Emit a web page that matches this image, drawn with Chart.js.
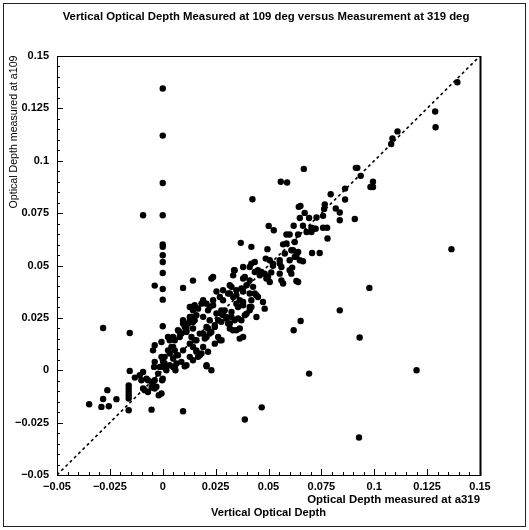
<!DOCTYPE html>
<html><head><meta charset="utf-8">
<script src="https://cdn.jsdelivr.net/npm/chart.js@4.4.1/dist/chart.umd.min.js"></script>
<style>html,body{margin:0;padding:0;background:#fff}#wrap{width:529px;height:530px;position:relative}</style>
</head><body><div id="wrap"><canvas id="c" width="529" height="530"></canvas></div>
<script>
// ---- data (x = optical depth at a319, y = optical depth at a109) ----
const zeroColumn = [[0,0.1345],[0,0.112],[0,0.0894],[0,0.074],[0,0.0601],[0,0.0589],[0,0.0549],[0,0.0517],[0,0.0464],[0,0.0388],[0,0.0337],[0,0.021]];
const outliers = [[-0.0093,0.074],[-0.0038,0.0404],[0.0424,0.0816],[0.0667,0.0961],[0.0558,0.090],[0.0588,0.0896],[0.1393,0.1375],[0.1288,0.1235],[0.129,0.116],[0.111,0.114],[0.1086,0.1106],[0.108,0.108],[0.0913,0.0966],[0.092,0.0966],[0.0936,0.0928],[0.0994,0.090],[0.0982,0.0875],[0.0994,0.0875],[0.1365,0.0578],[0.0977,0.0393],[0.0837,0.0286],[0.0931,0.0156],[0.12,0],[0.0692,-0.0016],[0.0928,-0.0321],[0.0652,0.0235],[0.0619,0.0191],[0.0388,-0.0235],[0.0468,-0.0177],[0.0096,-0.0196],[-0.0053,-0.0188],[-0.0282,0.0202],[-0.0156,0.0178],[-0.0348,-0.0162],[-0.029,-0.0175],[-0.0255,-0.0172],[-0.0282,-0.0137],[-0.0262,-0.0095],[-0.0219,-0.0138],[-0.0161,-0.0191]];
const lowerBand = [[-0.0161,-0.0072],[-0.0161,-0.0087],[-0.0161,-0.0104],[-0.0161,-0.0119],[-0.0161,-0.0135],[-0.0156,-0.0003],[-0.0132,-0.0035],[-0.0109,-0.0024],[-0.0093,-0.0008],[-0.0101,-0.0048],[-0.0077,-0.004],[-0.0093,-0.0087],[-0.0085,-0.0095],[-0.007,-0.0104],[-0.0053,-0.0083],[-0.0046,-0.0072],[-0.0038,-0.0087],[-0.0019,-0.0119],[-0.007,-0.0048],[-0.0053,-0.0056],[-0.0041,0.0016],[-0.0038,0.004],[-0.0038,0.0119],[-0.0046,0.0095],[-0.0006,0.0064],[0.0001,0.0048],[0.0009,0.0032],[0.0006,0.0016],[-0.0003,-0.0048],[0,-0.004],[-0.0006,0.0135],[0.0025,0.0159],[0.0049,0.0111],[0.0033,0.008],[0.0057,0.0095],[0.0065,0.0072],[0.0049,0.0016],[0.006,0],[0.0065,0.0032],[0.0072,0.0191],[0.0088,0.0175],[0.0104,0.0207],[0.0112,0.0183],[0.0096,0.0239],[0.012,0.0223],[0.0136,0.0254],[0.0151,0.0239],[0.0136,0.0302],[0.0151,0.031],[0.0167,0.0294],[0.0183,0.0318],[0.0136,0.0159],[0.0151,0.0143],[0.0143,0.0111],[0.0159,0.0095],[0.0167,0.0064],[0.0183,0.008],[0.0207,0.0024],[0.023,0],[0.0104,0.0019],[0.0207,0.0019],[0.0191,0.0175],[0.0207,0.0159],[0.0214,0.0199],[0.023,0.0183],[0.0246,0.0207],[0.0262,0.0239],[0.0278,0.027],[0.0293,0.0286],[0.0309,0.0223],[0.0325,0.0254],[0.0246,0.0127],[0.0278,0.0143],[0.0348,0.0191],[0.0372,0.0239],[0.0396,0.027],[0.0419,0.0302],[0.0356,0.0302],[0.0364,0.0151]];
const coreBand = [[0.0214,0.0286],[0.0238,0.031],[0.0254,0.0271],[0.0277,0.0286],[0.0301,0.0255],[0.0325,0.0278],[0.0348,0.0318],[0.038,0.031],[0.0411,0.0302],[0.0388,0.0263],[0.0356,0.0247],[0.0317,0.0223],[0.0277,0.0231],[0.0246,0.0215],[0.0222,0.0239],[0.0191,0.0255],[0.0159,0.0263],[0.0128,0.0239],[0.0096,0.0223],[0.0112,0.0191],[0.008,0.0159],[0.0057,0.0143],[0.0041,0.0111],[0.0025,0.0095],[0.0009,0.0064],[0.0002,0.004],[-0.0014,0.0016],[-0.0022,-0.0016],[-0.0038,-0.0048],[-0.003,-0.0079],[-0.0006,-0.0111],[0.0143,0.0199],[0.0175,0.0175],[0.0199,0.0151],[0.0159,0.0143],[0.0128,0.0127],[0.0096,0.0095],[0.0072,0.0072],[0.0049,0.0056],[0.0033,0.0024],[0.0017,0],[0.0057,0.0016],[0.0088,0.004],[0.0128,0.0064],[0.0159,0.0088],[0.0191,0.0111],[0.0214,0.0088],[0.0175,0.0072],[0.0143,0.0048],[0.0112,0.0024],[0.0443,0.0358],[0.0419,0.0334],[0.027,0.0143]];
const midBand = [[0.0143,0.0428],[0.0096,0.0393],[0.023,0.0438],[0.0337,0.0477],[0.0369,0.0608],[0.0419,0.0589],[0.0495,0.0578],[0.0501,0.0689],[0.0525,0.0668],[0.0487,0.0533],[0.0435,0.0517],[0.0569,0.0601],[0.0577,0.0557],[0.0616,0.0573],[0.0632,0.0549],[0.0648,0.0525],[0.0663,0.052],[0.0553,0.0509],[0.0521,0.0509],[0.06,0.0477],[0.0608,0.0461],[0.064,0.0421],[0.0569,0.0414],[0.049,0.0438],[0.0506,0.0421],[0.0411,0.0493],[0.0435,0.0469],[0.0459,0.0453],[0.038,0.0438],[0.0396,0.0406],[0.0317,0.0406],[0.0317,0.0366],[0.0348,0.0358],[0.038,0.0376],[0.0427,0.0398],[0.0435,0.0366],[0.0254,0.0376],[0.027,0.035],[0.0285,0.0334],[0.0364,0.0334],[0.038,0.0326],[0.0411,0.0286],[0.0443,0.0254],[0.0482,0.0294],[0.0191,0.0334],[0.0207,0.0318],[0.0222,0.0302],[0.0128,0.0302],[0.0143,0.0286],[0.0285,0.0263],[0.0301,0.0247],[0.034,0.0239],[0.0364,0.0199],[0.038,0.0159],[0.0317,0.0199],[0.0332,0.0191],[0.0262,0.0159],[0.0207,0.0207],[0.0222,0.0175],[0.0128,0.0254],[0.0143,0.023],[0.0112,0.0207],[0.008,0.0183],[0.0049,0.0159],[0.0033,0.0143],[0.0706,0.056],[0.0742,0.056],[0.0779,0.0629]];
const midBand2 = [[0.0624,0.0612],[0.0585,0.0605],[0.0608,0.0573],[0.064,0.0565],[0.0624,0.0541],[0.06,0.0525],[0.0553,0.0525],[0.0561,0.0493],[0.0506,0.0525],[0.0521,0.0499],[0.0513,0.0467],[0.0419,0.0509],[0.045,0.0477],[0.0466,0.0469],[0.0482,0.0461],[0.0498,0.0445],[0.0553,0.0461],[0.0561,0.0429],[0.0612,0.049],[0.0632,0.0426],[0.038,0.0493],[0.034,0.0477],[0.0333,0.0453],[0.0388,0.0445],[0.0411,0.0429],[0.0238,0.0445],[0.0325,0.0398],[0.0348,0.0382],[0.0372,0.039],[0.0285,0.0382],[0.0309,0.0366],[0.0333,0.035],[0.0411,0.0366],[0.045,0.035],[0.0474,0.0326],[0.0238,0.0334]];
const upperBand = [[0.0862,0.0867],[0.0794,0.084],[0.0862,0.0815],[0.0766,0.0792],[0.0763,0.077],[0.0818,0.0772],[0.0837,0.0753],[0.0837,0.0716],[0.0908,0.0722],[0.0643,0.078],[0.0651,0.0784],[0.0671,0.0751],[0.0648,0.0727],[0.0692,0.0727],[0.0727,0.0729],[0.0758,0.0737],[0.0619,0.069],[0.0663,0.069],[0.0703,0.068],[0.0715,0.0676],[0.0723,0.0676],[0.068,0.066],[0.0703,0.066],[0.0758,0.068],[0.0777,0.068],[0.0585,0.0648],[0.06,0.0648],[0.064,0.0648]];
const diagonal = [-0.05, 0.15];
const xTickValues = [-0.05,-0.025,0,0.025,0.05,0.075,0.1,0.125,0.15];
const xTickLabels = ['\u22120.05','\u22120.025','0','0.025','0.05','0.075','0.1','0.125','0.15'];
const yTickValues = [-0.05,-0.025,0,0.025,0.05,0.075,0.1,0.125,0.15];
const yTickLabels = ['\u22120.05','\u22120.025','0','0.025','0.05','0.075','0.1','0.125','0.15'];
const titleText = 'Vertical Optical Depth Measured at 109 deg versus Measurement at 319 deg';
const yTitleText = 'Optical Depth measured at a109';
const xTitleText1 = 'Optical Depth measured at a319';
const xTitleText2 = 'Vertical Optical Depth';

const FONT = '"Liberation Sans", Arial, sans-serif';
const allPoints = [].concat(zeroColumn, outliers, lowerBand, coreBand, midBand, midBand2, upperBand);

function fitFont(ctx, text, target, weight, base){
  ctx.font = weight + ' ' + base + 'px ' + FONT;
  const w = ctx.measureText(text).width;
  const s = base * target / w;
  ctx.font = weight + ' ' + s.toFixed(2) + 'px ' + FONT;
}

const decor = {
  id: 'decor',
  afterDraw(chart){
    const ctx = chart.ctx, a = chart.chartArea;
    const xs = chart.scales.x, ys = chart.scales.y;
    ctx.save();
    ctx.strokeStyle = '#222'; ctx.lineWidth = 1;
    ctx.strokeRect(3.5, 3.5, 522, 523);
    ctx.strokeStyle = '#000'; ctx.lineWidth = 1;
    ctx.strokeRect(a.left + 0.5, a.top + 0.5, a.right - a.left, a.bottom - a.top);
    ctx.beginPath(); ctx.lineWidth = 2;
    ctx.moveTo(a.right + 0.5, a.top); ctx.lineTo(a.right + 0.5, a.bottom + 1); ctx.stroke();
    ctx.lineWidth = 1; ctx.beginPath();
    for (let i = 0; i <= 40; i++) {
      const v = -0.05 + i * 0.005;
      const len = (i % 5 === 0) ? 6 : 3;
      const px = Math.round(xs.getPixelForValue(v)) + 0.5;
      ctx.moveTo(px, a.bottom); ctx.lineTo(px, a.bottom - len);
      const py = Math.round(ys.getPixelForValue(v)) + 0.5;
      ctx.moveTo(a.left, py); ctx.lineTo(a.left + len, py);
    }
    ctx.stroke();
    ctx.fillStyle = '#000';
    ctx.textAlign = 'center'; ctx.textBaseline = 'middle';
    fitFont(ctx, titleText, 407, 'bold', 11);
    ctx.fillText(titleText, 266, 17);
    fitFont(ctx, xTitleText1, 173, 'bold', 11);
    ctx.textAlign = 'right';
    ctx.fillText(xTitleText1, a.right, 500);
    fitFont(ctx, xTitleText2, 115, 'bold', 11);
    ctx.textAlign = 'center';
    ctx.fillText(xTitleText2, (a.left + a.right) / 2, 513);
    ctx.save();
    ctx.translate(14, 132); ctx.rotate(-Math.PI / 2);
    fitFont(ctx, yTitleText, 153, 'normal', 11);
    ctx.fillText(yTitleText, 0, 0);
    ctx.restore();
    ctx.restore();
  }
};

new Chart(document.getElementById('c').getContext('2d'), {
  type: 'scatter',
  data: {
    datasets: [
      { type: 'line', data: diagonal.map(v => ({x: v, y: v})), borderColor: '#000', borderWidth: 1.6,
        borderDash: [3, 3], pointRadius: 0, fill: false, order: 2 },
      { data: allPoints.map(p => ({x: p[0], y: p[1]})), backgroundColor: '#000', borderWidth: 0,
        pointRadius: 3.2, order: 1 }
    ]
  },
  options: {
    responsive: false, animation: false, devicePixelRatio: 1,
    layout: { padding: { left: 0, top: 56, right: 49, bottom: 0 } },
    plugins: { legend: { display: false }, tooltip: { enabled: false }, title: { display: false } },
    scales: {
      x: {
        type: 'linear', min: -0.05, max: 0.15,
        afterBuildTicks: s => { s.ticks = xTickValues.map(v => ({ value: v })); },
        afterFit: s => { s.height = 55; },
        ticks: { callback: (v, i) => xTickLabels[i], font: { family: FONT, size: 11, weight: 'bold' },
                 color: '#000', padding: 5, maxRotation: 0, autoSkip: false },
        grid: { display: false, drawTicks: false }, border: { display: false }
      },
      y: {
        type: 'linear', min: -0.05, max: 0.15,
        afterBuildTicks: s => { s.ticks = yTickValues.map(v => ({ value: v })); },
        afterFit: s => { s.width = 57; },
        ticks: { callback: (v, i) => yTickLabels[i], font: { family: FONT, size: 11, weight: 'bold' },
                 color: '#000', padding: 8, autoSkip: false },
        grid: { display: false, drawTicks: false }, border: { display: false }
      }
    }
  },
  plugins: [decor]
});
</script></body></html>
